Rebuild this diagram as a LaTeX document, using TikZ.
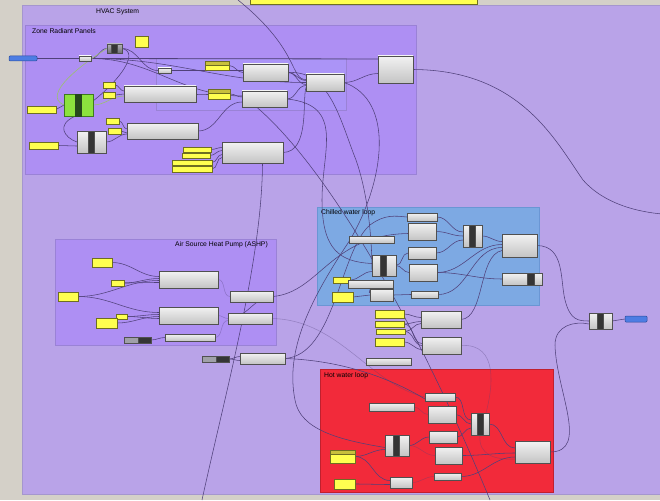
\documentclass[tikz,border=0pt]{standalone}
\usepackage{fontspec}
\setmainfont{Liberation Sans}
\definecolor{canvas}{HTML}{D4D0C8}
\definecolor{hvacc}{HTML}{B9A3E8}
\definecolor{hvacedge}{HTML}{A596CE}
\definecolor{zonec}{HTML}{AE8FF3}
\definecolor{subc}{HTML}{AB94F7}
\definecolor{grpedge}{HTML}{9A82D6}
\definecolor{chillc}{HTML}{7DA9E3}
\definecolor{chilledge}{HTML}{6A96D4}
\definecolor{hotc}{HTML}{F22A3A}
\definecolor{hotedge}{HTML}{C0202E}
\definecolor{comptop}{HTML}{F2F2F2}
\definecolor{compbot}{HTML}{C4C4C4}
\definecolor{compedge}{HTML}{505050}
\definecolor{stripc}{HTML}{353535}
\definecolor{panelc}{HTML}{FFFF50}
\definecolor{paneledge}{HTML}{6E6E22}
\definecolor{tagc}{HTML}{C8C03C}
\definecolor{sliderc}{HTML}{4D7DE3}
\definecolor{slideredge}{HTML}{2A4A9A}
\definecolor{greenc}{HTML}{8CE23E}
\definecolor{greenedge}{HTML}{3E7A1E}
\definecolor{greenstrip}{HTML}{26481C}
\definecolor{wirec}{HTML}{50417A}
\definecolor{gwirec}{HTML}{9CC070}
\definecolor{knobc}{HTML}{A0A0A8}
\pgfdeclarelayer{grp}
\pgfdeclarelayer{wires}
\pgfsetlayers{grp,wires,main}
\begin{document}
\begin{tikzpicture}[x=1pt, y=-1pt,
  sz/.style 2 args={minimum width=#1pt, minimum height=#2pt},
  comp/.style={draw=compedge, line width=0.6pt, top color=comptop, bottom color=compbot, anchor=north west, inner sep=0pt, outer sep=0pt},
  dcomp/.style={comp, top color=knobc!80, bottom color=knobc!70!black},
  dark/.style={draw=compedge, line width=0.4pt, fill=stripc, anchor=north west, inner sep=0pt, outer sep=0pt},
  panel/.style={draw=paneledge, line width=0.5pt, fill=panelc, anchor=north west, inner sep=0pt, outer sep=0pt},
  tag/.style={draw=paneledge, line width=0.4pt, fill=tagc, anchor=north west, inner sep=0pt, outer sep=0pt},
  slider/.style={draw=slideredge, line width=0.5pt, fill=sliderc, anchor=north west, inner sep=0pt, outer sep=0pt, rounded corners=1pt},
  knob/.style={draw=compedge, line width=0.5pt, fill=knobc, anchor=north west, inner sep=0pt, outer sep=0pt},
  green/.style={draw=greenedge, line width=0.6pt, fill=greenc, anchor=north west, inner sep=0pt, outer sep=0pt},
  wire/.style={draw=wirec, line width=0.55pt},
  faint/.style={wire, draw opacity=0.35},
  gwire/.style={draw=gwirec, line width=0.6pt},
  title/.style={font=\fontsize{6.8}{7}\selectfont, text=black, inner sep=0pt},
]
\useasboundingbox (0,0) rectangle (660,500);

% groups
\begin{pgfonlayer}{grp}
\fill[canvas] (0,0) rectangle (660,500);
\filldraw[fill=hvacc, draw=hvacedge] (22,5) rectangle (665,494);
\filldraw[fill=zonec, draw=grpedge] (25,25) rectangle (416,174);
\filldraw[fill=subc, draw=grpedge] (156,58) rectangle (346,110);
\filldraw[fill=zonec, draw=grpedge] (55,239) rectangle (276,345);
\filldraw[fill=chillc, draw=chilledge] (317,207) rectangle (539,305);
\filldraw[fill=hotc, draw=hotedge] (320,369) rectangle (553,492);
\node[title, anchor=west] (thvac) at (96,12) {HVAC System};
\node[title, anchor=west] (tzone) at (32,31) {Zone Radiant Panels};
\node[title, anchor=east] (tashp) at (268,245) {Air Source Heat Pump (ASHP)};
\node[title, anchor=west] (tchill) at (321,213) {Chilled water loop};
\node[title, anchor=west] (thot) at (324,376) {Hot water loop};
\end{pgfonlayer}

\node[panel, sz={227}{9}] (topbar) at (250,-5) {};

% zone radiant panels
\node[slider, sz={28}{5}] (zsl) at (9,56) {};
\node[comp, sz={12}{5}] (zpt) at (79,56) {};
\node[dcomp, sz={15}{9}] (zclus) at (107,44) {};
\node[dark, sz={6}{9}] (zclus-s) at (111.5,44) {};
\node[panel, sz={13}{11}] (zy1) at (135,36) {};
\node[comp, sz={13}{5}] (zpt2) at (158,68) {};
\node[panel, sz={24}{9}] (ztag1) at (205,61) {};
\node[tag, sz={24}{4}] (ztag1-h) at (205,61) {};
\node[comp, sz={45}{17}] (zc1) at (243,64) {};
\node[comp, sz={38}{17}] (zc2) at (306,74) {};
\node[comp, sz={35}{27}] (zc3) at (378,56) {};
\node[panel, sz={22}{10}] (ztag2) at (208,89) {};
\node[tag, sz={22}{4}] (ztag2-h) at (208,89) {};
\node[comp, sz={45}{16}] (zc4) at (242,91) {};
\node[panel, sz={12}{6}] (zy2) at (103,82) {};
\node[panel, sz={12}{6}] (zy3) at (103,92) {};
\node[comp, sz={72}{16}] (zc5) at (124,86) {};
\node[green, sz={29}{22}] (zgreen) at (64,94) {};
\node[dark, draw=greenstrip, fill=greenstrip, sz={6}{22}] (zgreen-s) at (75,94) {};
\node[panel, sz={29}{7}] (zy4) at (27,106) {};
\node[panel, sz={13}{6}] (zy5) at (106,118) {};
\node[panel, sz={13}{6}] (zy6) at (108,128) {};
\node[comp, sz={71}{16}] (zc6) at (127,123) {};
\node[comp, sz={29}{22}] (zclus2) at (77,131) {};
\node[dark, sz={6}{22}] (zclus2-s) at (88,131) {};
\node[panel, sz={29}{7}] (zy7) at (29,142) {};
\node[panel, sz={28}{5}] (zy8) at (183,147) {};
\node[panel, sz={28}{5}] (zy9) at (182,153) {};
\node[panel, sz={40}{5}] (zy10) at (172,160) {};
\node[panel, sz={40}{6}] (zy11) at (172,166) {};
\node[comp, sz={61}{21}] (zc7) at (222,142) {};

% air source heat pump
\node[panel, sz={20}{9}] (ay1) at (92,258) {};
\node[panel, sz={13}{6}] (ay2) at (111,280) {};
\node[panel, sz={20}{9}] (ay3) at (58,292) {};
\node[comp, sz={59}{17}] (ac1) at (159,271) {};
\node[comp, sz={59}{17}] (ac2) at (159,307) {};
\node[panel, sz={11}{5}] (ay4) at (116,314) {};
\node[panel, sz={21}{10}] (ay5) at (96,318) {};
\node[knob, sz={27}{6}] (asl) at (124,337) {};
\node[dark, sz={13}{6}] (asl-s) at (138,337) {};
\node[comp, sz={50}{7}] (ac3) at (165,334) {};
\node[comp, sz={43}{11}] (ac4) at (230,291) {};
\node[comp, sz={44}{11}] (ac5) at (228,313) {};
\node[knob, sz={27}{6}] (asl2) at (202,356) {};
\node[dark, sz={13}{6}] (asl2-s) at (216,356) {};
\node[comp, sz={45}{11}] (ac6) at (240,353) {};

% chilled water loop
\node[comp, sz={30}{8}] (cc1) at (407,213) {};
\node[comp, sz={28}{17}] (cc2) at (408,223) {};
\node[comp, sz={45}{7}] (cc3) at (349,236) {};
\node[comp, sz={19}{22}] (ccl1) at (463,225) {};
\node[dark, sz={6}{22}] (ccl1-s) at (469.5,225) {};
\node[comp, sz={35}{23}] (cc4) at (502,234) {};
\node[comp, sz={28}{12}] (cc5) at (408,247) {};
\node[comp, sz={24}{21}] (ccl2) at (372,255) {};
\node[dark, sz={6}{21}] (ccl2-s) at (380,255) {};
\node[comp, sz={28}{17}] (cc6) at (409,264) {};
\node[comp, sz={40}{12}] (csl) at (502,273) {};
\node[dark, sz={7}{12}] (csl-s) at (527,273) {};
\node[panel, sz={17}{6}] (cy1) at (333,277) {};
\node[comp, sz={45}{8}] (cc7) at (348,280) {};
\node[panel, sz={21}{10}] (cy2) at (332,292) {};
\node[comp, sz={23}{12}] (cc8) at (370,289) {};
\node[comp, sz={27}{7}] (cc9) at (411,291) {};

% between the loops
\node[panel, sz={29}{8}] (my1) at (375,310) {};
\node[panel, sz={29}{6}] (my2) at (375,321) {};
\node[panel, sz={29}{5}] (my3) at (376,329) {};
\node[panel, sz={29}{8}] (my4) at (375,338) {};
\node[comp, sz={40}{17}] (mc1) at (421,311) {};
\node[comp, sz={39}{17}] (mc2) at (422,337) {};
\node[comp, sz={45}{7}] (mc3) at (366,358) {};
\node[comp, sz={23}{16}] (mcl) at (589,313) {};
\node[dark, sz={6}{16}] (mcl-s) at (597,313) {};
\node[slider, sz={22}{6}] (mbl) at (625,316) {};

% hot water loop
\node[comp, sz={30}{8}] (hc1) at (425,393) {};
\node[comp, sz={45}{8}] (hc2) at (369,403) {};
\node[comp, sz={28}{17}] (hc3) at (428,406) {};
\node[comp, sz={18}{22}] (hcl1) at (471,413) {};
\node[dark, sz={6}{22}] (hcl1-s) at (477,413) {};
\node[comp, sz={28}{12}] (hc4) at (429,431) {};
\node[comp, sz={24}{21}] (hcl2) at (385,435) {};
\node[dark, sz={6}{21}] (hcl2-s) at (393,435) {};
\node[comp, sz={27}{17}] (hc5) at (435,447) {};
\node[comp, sz={35}{22}] (hc6) at (515,441) {};
\node[panel, sz={25}{13}] (hy1) at (330,450) {};
\node[tag, sz={25}{4}] (hy1-h) at (330,450) {};
\node[panel, sz={21}{10}] (hy2) at (334,479) {};
\node[comp, sz={22}{11}] (hc7) at (390,477) {};
\node[comp, sz={27}{7}] (hc8) at (434,473) {};

\coordinate (topin) at (238,0);
\coordinate (botA) at (202,500);
\coordinate (botB) at (490,500);
\coordinate (rightA) at (662,214);

\begin{pgfonlayer}{wires}
% zone radiant panels
\draw[wire] (zsl.east) -- (zpt.west);
\draw[wire] (zpt.east) to[out=0,in=180] (zclus.west);
\draw[wire, line width=0.8pt] (zpt.east) -- ([yshift=-3pt]zc3.north west);
\draw[wire] (zpt.east) to[out=0,in=180] ([yshift=3pt]zc4.west);
\draw[wire] (zpt.east) to[out=0,in=180] (zc2.west);
\draw[wire] (zclus.east) to[out=0,in=180] (zpt2.west);
\draw[wire] (zclus.east) .. controls (140,52) and (120,80) .. ([yshift=4pt]zgreen.east);
\draw[gwire] (zgreen.west) .. controls (40,95) and (85,62) .. (zclus.west);
\draw[gwire] (zgreen.east) to[out=0,in=180] ([yshift=-2pt]zc5.west);
\draw[wire] (zpt2.east) to[out=0,in=180] ([yshift=2pt]zc1.west);
\draw[wire] (ztag1.east) to[out=0,in=180] (zc1.west);
\draw[wire] (zc1.east) to[out=0,in=180] ([yshift=2pt]zc2.west);
\draw[wire] (zc1.east) to[out=0,in=180] ([yshift=-2pt]zc2.west);
\draw[wire] (zc2.east) to[out=0,in=180] ([yshift=-4pt]zc3.west);
\draw[wire] (topin) .. controls (300,50) and (290,80) .. ([yshift=3pt]zc2.west);
\draw[wire] (zc3.east) .. controls (520,70) and (555,140) .. (583,180) .. controls (605,205) and (640,212) .. (rightA);
\draw[wire] (zy2.east) to[out=0,in=180] ([yshift=3pt]zc5.west);
\draw[wire] (zy3.east) to[out=0,in=180] (zc5.west);
\draw[wire] (zc5.east) to[out=0,in=180] (ztag2.west);
\draw[wire] (ztag2.east) to[out=0,in=180] ([yshift=2pt]zc4.west);
\draw[wire] (zc4.east) to[out=0,in=180] ([yshift=-3pt]zc2.west);
\draw[wire] (zy4.east) -- (zgreen.west);
\draw[wire] ([xshift=-3pt]zgreen.south) .. controls (55,125) and (65,138) .. (zclus2.west);
\draw[wire] (zy5.east) to[out=0,in=180] ([yshift=2pt]zc6.west);
\draw[wire] (zy6.east) to[out=0,in=180] ([yshift=-2pt]zc6.west);
\draw[wire] (zc6.east) to[out=0,in=180] ([yshift=-3pt]zc4.west);
\draw[wire] (zy7.east) to[out=0,in=180] ([yshift=-4pt]zclus2.west);
\draw[wire] (zclus2.east) to[out=0,in=180] ([yshift=-3pt]zc6.west);
\draw[wire] (zy8.east) to[out=0,in=180] ([yshift=5pt]zc7.west);
\draw[wire] (zy9.east) to[out=0,in=180] ([yshift=2pt]zc7.west);
\draw[wire] (zy10.east) to[out=0,in=180] ([yshift=-2pt]zc7.west);
\draw[wire] (zy11.east) to[out=0,in=180] ([yshift=-5pt]zc7.west);
\draw[wire] (zc7.east) .. controls (310,152) and (302,100) .. ([yshift=-5pt]zc2.west);
\draw[wire] ([xshift=10pt]zc7.south) .. controls (262,260) and (226,390) .. (botA);
\draw[wire] ([xshift=-8pt]zc4.south) .. controls (330,170) and (420,330) .. (botB);
\draw[wire] (zc2.east) .. controls (395,100) and (385,180) .. (350,240) .. controls (310,300) and (285,350) .. (295,400) .. controls (300,430) and (340,440) .. ([yshift=-2pt]hcl2.west);
\draw[wire] (zc4.east) .. controls (345,105) and (322,150) .. (322,200) .. controls (322,250) and (340,262) .. ([yshift=2pt]ccl2.west);
\draw[wire] (zc1.east) .. controls (330,70) and (340,120) .. (356,160) .. controls (370,200) and (372,250) .. ([yshift=-4pt]ccl2.west);
% air source heat pump
\draw[wire] (ay1.east) to[out=0,in=180] ([yshift=3pt]ac1.west);
\draw[wire] (ay2.east) to[out=0,in=180] ([yshift=1pt]ac1.west);
\draw[wire] (ay2.east) to[out=0,in=180] ([yshift=-3pt]ac1.west);
\draw[wire] (ay3.east) to[out=0,in=180] ([yshift=-1pt]ac1.west);
\draw[wire] (ay3.east) to[out=0,in=180] ([yshift=3pt]ac2.west);
\draw[wire] (ay4.east) to[out=0,in=180] ([yshift=1pt]ac2.west);
\draw[wire] (ay5.east) to[out=0,in=180] ([yshift=-1pt]ac2.west);
\draw[wire] (ay4.east) to[out=0,in=180] ([yshift=-3pt]ac2.west);
\draw[faint] (ac1.east) to[out=0,in=180] (ac4.west);
\draw[faint] (ac2.east) to[out=0,in=180] (ac5.west);
\draw[wire] (asl.east) to[out=0,in=180] (ac3.west);
\draw[faint] (ac3.east) to[out=0,in=180] ([yshift=-2pt]ac5.west);
\draw[wire] (ac5.west) to[out=0,in=180] (ac4.east);
\draw[wire] (asl2.east) to[out=0,in=180] ([yshift=2pt]ac6.west);
\draw[wire] (asl2.east) to[out=0,in=180] ([yshift=-2pt]ac6.west);
\draw[wire] (ac4.east) .. controls (320,292) and (330,235) .. ([yshift=-2pt]cc2.west);
\draw[wire] (ac6.east) .. controls (335,355) and (340,250) .. (370,225) .. controls (385,214) and (395,216) .. (cc1.west);
\draw[faint] (ac5.east) .. controls (340,320) and (370,385) .. (hc1.west);
\draw[wire] (ac6.east) .. controls (330,360) and (380,372) .. ([yshift=-2pt]hc1.west);
% chilled water loop
\draw[wire] (cc1.east) to[out=0,in=180] ([yshift=4pt]ccl1.west);
\draw[wire] (cc2.east) to[out=0,in=180] (ccl1.west);
\draw[wire] (cc5.east) to[out=0,in=180] ([yshift=-4pt]ccl1.west);
\draw[wire] (ccl1.east) to[out=0,in=180] ([yshift=4pt]cc4.west);
\draw[wire] (ccl2.east) to[out=0,in=180] (cc5.west);
\draw[wire] (ccl2.east) to[out=0,in=180] (cc6.west);
\draw[wire] (cc6.east) to[out=0,in=180] ([yshift=1pt]cc4.west);
\draw[wire] (cc6.east) to[out=0,in=180] (csl.west);
\draw[wire] (cc9.east) to[out=0,in=180] ([yshift=-2pt]cc4.west);
\draw[wire] (cy1.east) to[out=0,in=180] ([yshift=-6pt]ccl2.west);
\draw[wire] (cy2.east) -- (cc8.west);
\draw[wire] (cc7.south) to[out=-90,in=180] ([yshift=2pt]cc8.west);
\draw[wire] (cc8.east) to[out=0,in=180] (cc9.west);
\draw[wire] (mc1.east) .. controls (485,318) and (478,255) .. ([yshift=-5pt]cc4.west);
\draw[wire] (cc4.east) .. controls (565,246) and (560,280) .. (565,300) .. controls (570,320) and (578,321) .. (mcl.west);
\draw[wire] (mcl.east) -- (mbl.west);
\draw[wire] (my1.east) to[out=0,in=180] ([yshift=2pt]mc1.west);
\draw[wire] (my2.east) to[out=0,in=180] ([yshift=-2pt]mc1.west);
\draw[wire] (my2.east) to[out=0,in=180] ([yshift=2pt]mc2.west);
\draw[wire] (my3.east) to[out=0,in=180] ([yshift=-4pt]mc1.west);
\draw[wire] (my3.east) to[out=0,in=180] (mc2.west);
\draw[wire] (my4.east) to[out=0,in=180] ([yshift=-4pt]mc2.west);
\draw[faint] (mc2.east) .. controls (500,343) and (492,390) .. ([xshift=-3pt]hcl1.north east);
% hot water loop
\draw[wire] (hc1.east) to[out=0,in=180] ([yshift=4pt]hcl1.west);
\draw[wire] (hc3.east) to[out=0,in=180] (hcl1.west);
\draw[wire] (hc4.east) to[out=0,in=180] ([yshift=-4pt]hcl1.west);
\draw[wire] (hcl1.east) to[out=0,in=180] ([yshift=4pt]hc6.west);
\draw[faint] (hc2.east) to[out=0,in=180] (hc3.west);
\draw[wire] (hcl2.east) to[out=0,in=180] (hc4.west);
\draw[faint] (hcl2.east) to[out=0,in=180] (hc5.west);
\draw[wire] (hy1.east) to[out=0,in=180] ([yshift=-4pt]hcl2.west);
\draw[wire] (hy1.east) to[out=0,in=180] ([yshift=2pt]hc7.west);
\draw[wire] (hy2.east) to[out=0,in=180] ([yshift=-2pt]hc7.west);
\draw[faint] (hc7.east) to[out=0,in=180] (hc8.west);
\draw[wire] (hc5.east) to[out=0,in=180] ([yshift=-1pt]hc6.west);
\draw[wire] (hc8.east) to[out=0,in=180] ([yshift=-5pt]hc6.west);
\draw[faint] (hcl1.south) .. controls (478,455) and (495,460) .. ([yshift=-7pt]hc6.west);
\draw[wire] (hc6.east) .. controls (590,452) and (556,390) .. (555,345) .. controls (555,325) and (575,321) .. ([yshift=-3pt]mcl.west);
\end{pgfonlayer}
\end{tikzpicture}
\end{document}
